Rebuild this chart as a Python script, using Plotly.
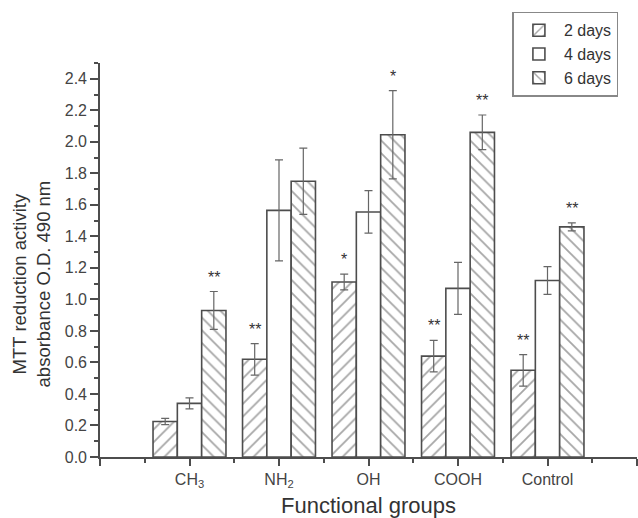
import plotly.graph_objects as go

categories = ["CH<sub>3</sub>", "NH<sub>2</sub>", "OH", "COOH", "Control"]
positions = [1, 2, 3, 4, 5]
series_names = ["2 days", "4 days", "6 days"]
vals_2d = [0.225, 0.62, 1.11, 0.64, 0.55]
err_2d = [0.02, 0.10, 0.05, 0.10, 0.10]
vals_4d = [0.34, 1.565, 1.555, 1.07, 1.12]
err_4d = [0.035, 0.32, 0.135, 0.165, 0.088]
vals_6d = [0.93, 1.75, 2.045, 2.06, 1.46]
err_6d = [0.12, 0.21, 0.28, 0.11, 0.025]
sig_2d = ["", "**", "*", "**", "**"]
sig_4d = ["", "", "", "", ""]
sig_6d = ["**", "", "*", "**", "**"]

line_col = "#4d4d4d"
err_col = "#666666"
patterns = ["/", "", "\\"]
values = [vals_2d, vals_4d, vals_6d]
errors = [err_2d, err_4d, err_6d]
sigs = [sig_2d, sig_4d, sig_6d]

fig = go.Figure()
for name, v, e, sh in zip(series_names, values, errors, patterns):
    fig.add_trace(go.Bar(
        x=positions, y=v, name=name,
        marker=dict(color="white", line=dict(color=line_col, width=1.6),
                    pattern=dict(shape=sh, fgcolor=line_col, bgcolor="white",
                                 size=9, solidity=0.2)),
        error_y=dict(type="data", array=e, visible=True, color=err_col,
                     thickness=1.2, width=4),
    ))

# significance markers
offsets = [-0.272, 0.0, 0.272]
for off, v, e, s in zip(offsets, values, errors, sigs):
    for p, vv, ee, ss in zip(positions, v, e, s):
        if ss:
            fig.add_annotation(x=p + off, y=vv + ee, text=ss, showarrow=False,
                               yanchor="bottom", yshift=4,
                               font=dict(size=16, color="#333333"))

# y-axis title (placed as annotation to match its off-centre position)
fig.add_annotation(
    text="MTT reduction activity<br>absorbance O.D. 490 nm",
    xref="paper", yref="paper", x=-0.127, y=0.44, textangle=-90,
    xanchor="center", yanchor="middle", showarrow=False,
    font=dict(size=18.5, color="#333333"),
)

fig.update_layout(
    width=638, height=518,
    margin=dict(l=100, r=1, t=63, b=61, autoexpand=False),
    plot_bgcolor="white", paper_bgcolor="white",
    barmode="group", bargap=0.185, bargroupgap=0,
    font=dict(family="Liberation Sans, Arial, sans-serif", color="#333333"),
    showlegend=True,
    legend=dict(x=0.768, y=1.13, xanchor="left", yanchor="top",
                bordercolor="#888888", borderwidth=1.5,
                font=dict(size=16, color="#333333"), tracegroupgap=0,
                itemwidth=40, traceorder="normal"),
)
fig.update_xaxes(
    range=[0, 6], tickmode="array", tickvals=[0] + positions + [6],
    ticktext=[""] + categories + [""],
    showline=True, linecolor=line_col, linewidth=1.6,
    ticks="outside", ticklen=7, tickwidth=1.6, tickcolor=line_col,
    tickfont=dict(size=16, color="#444444"),
    minor=dict(tickmode="array", tickvals=[0.5, 1.5, 2.5, 3.5, 4.5, 5.5],
               ticks="outside", ticklen=4, tickwidth=1.6, tickcolor=line_col),
    title=dict(text="Functional groups", font=dict(size=22, color="#333333"),
               standoff=17),
    showgrid=False, zeroline=False, automargin=False,
)
fig.update_yaxes(
    range=[0, 2.5], dtick=0.2, tick0=0, tickformat=".1f",
    showline=True, linecolor=line_col, linewidth=1.6,
    ticks="outside", ticklen=8, tickwidth=1.6, tickcolor=line_col,
    tickfont=dict(size=16, color="#444444"),
    minor=dict(dtick=0.1, ticks="outside", ticklen=4, tickwidth=1.6,
               tickcolor=line_col, showgrid=False),
    showgrid=False, zeroline=False, automargin=False,
)

fig.write_html(
    "out.html",
    config={"displayModeBar": False},
    post_script="document.body.style.margin='0';document.body.style.overflow='hidden';",
)
